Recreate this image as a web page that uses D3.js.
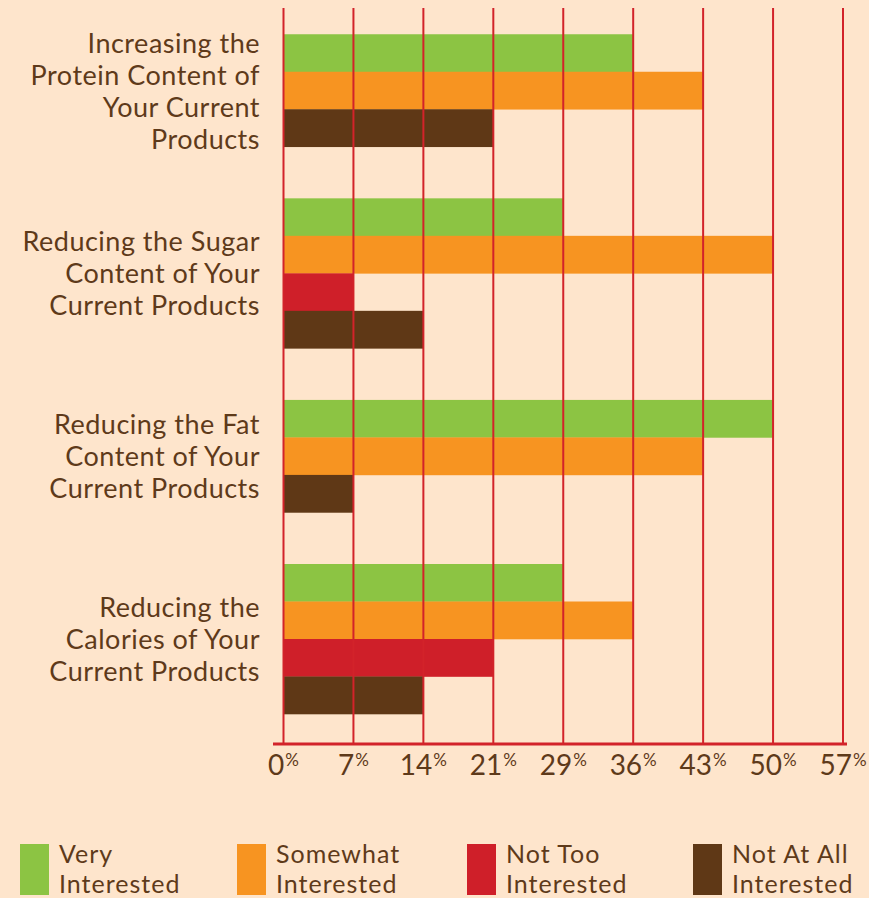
<!DOCTYPE html>
<html>
<head>
<meta charset="utf-8">
<script src="https://cdn.jsdelivr.net/npm/d3@7"></script>
<style>
  html, body { margin: 0; padding: 0; background: #fee5cc; }
  svg { display: block; font-family: Lato, "Open Sans", sans-serif; }
</style>
</head>
<body>
<div id="chart"></div>
<script>
var width = 869, height = 898;

// Data
var categories = [
  ["Increasing the", "Protein Content of", "Your Current", "Products"],
  ["Reducing the Sugar", "Content of Your", "Current Products"],
  ["Reducing the Fat", "Content of Your", "Current Products"],
  ["Reducing the", "Calories of Your", "Current Products"]
];
var seriesNames = ["Very Interested", "Somewhat Interested", "Not Too Interested", "Not At All Interested"];
var seriesColors = ["#8cc443", "#f79421", "#cf1f29", "#5f3816"];
var veryInterested = [35.7, 28.6, 50.0, 28.6];
var somewhatInterested = [42.9, 50.0, 42.9, 35.7];
var notTooInterested = [0, 7.1, 0, 21.4];
var notAtAllInterested = [21.4, 14.3, 7.1, 14.3];
var tickValues = [0, 50 / 7, 100 / 7, 150 / 7, 200 / 7, 250 / 7, 300 / 7, 350 / 7, 400 / 7];

var seriesValues = [veryInterested, somewhatInterested, notTooInterested, notAtAllInterested];

var svg = d3.select("#chart")
  .append("svg")
  .attr("width", width)
  .attr("height", height);

var textColor = "#5e3a1a";
var gridColor = "#d2232a";
var axisY = 744;
var barH = 37.5;

// X scale
var xScale = d3.scaleLinear()
  .domain([0, 400 / 7])
  .range([283.5, 843]);

// Category centres
var yScale = d3.scalePoint()
  .domain(d3.range(categories.length))
  .range([90.5, 639]);

// Bars: only series with a value are stacked, centred on the category
var barsG = svg.append("g").attr("class", "bars");

categories.forEach(function(cat, i) {
  var present = seriesValues
    .map(function(vals, s) { return { s: s, v: vals[i] }; })
    .filter(function(d) { return d.v > 0; });

  var inner = d3.scaleBand()
    .domain(present.map(function(d) { return d.s; }))
    .range([yScale(i) - present.length * barH / 2, yScale(i) + present.length * barH / 2]);

  barsG.selectAll(".bar-" + i)
    .data(present)
    .enter()
    .append("rect")
    .attr("class", "bar-" + i)
    .attr("x", xScale(0))
    .attr("y", function(d) { return inner(d.s); })
    .attr("width", function(d) { return xScale(d.v) - xScale(0); })
    .attr("height", inner.bandwidth() + 0.3)
    .attr("fill", function(d) { return seriesColors[d.s]; });

  // Category label
  var label = svg.append("text")
    .attr("text-anchor", "end")
    .attr("font-size", "27px")
    .attr("letter-spacing", "0.5px")
    .attr("fill", textColor);
  var firstY = yScale(i) - (cat.length - 1) * 32 / 2 + 10;
  label.selectAll("tspan")
    .data(cat)
    .enter()
    .append("tspan")
    .attr("x", 260)
    .attr("y", function(d, k) { return firstY + k * 32; })
    .text(function(d) { return d; });
});

// Vertical grid lines above the bars
svg.append("g")
  .attr("class", "grid")
  .selectAll("line")
  .data(tickValues)
  .enter()
  .append("line")
  .attr("x1", function(d) { return xScale(d); })
  .attr("x2", function(d) { return xScale(d); })
  .attr("y1", 8)
  .attr("y2", axisY)
  .attr("stroke", gridColor)
  .attr("stroke-width", 2);

// X axis line
svg.append("line")
  .attr("x1", 273)
  .attr("x2", 847)
  .attr("y1", axisY)
  .attr("y2", axisY)
  .attr("stroke", gridColor)
  .attr("stroke-width", 3);

// Tick labels with superscript percent
var tickLabels = svg.append("g")
  .attr("class", "x-labels")
  .selectAll("text")
  .data(tickValues)
  .enter()
  .append("text")
  .attr("x", function(d) { return xScale(d); })
  .attr("y", 775)
  .attr("text-anchor", "middle")
  .attr("fill", textColor);

tickLabels.append("tspan")
  .attr("font-size", "28px")
  .text(function(d) { return Math.round(d); });
tickLabels.append("tspan")
  .attr("font-size", "17px")
  .attr("dx", 1)
  .attr("dy", -9)
  .text("%");

// Legend
var legendX = [20, 237, 467, 693];
var legend = svg.append("g")
  .attr("class", "legend")
  .selectAll("g")
  .data(seriesNames)
  .enter()
  .append("g")
  .attr("transform", function(d, i) { return "translate(" + legendX[i] + ",844)"; });

legend.append("rect")
  .attr("width", 29)
  .attr("height", 51)
  .attr("fill", function(d, i) { return seriesColors[i]; });

legend.append("text")
  .attr("font-size", "25px")
  .attr("letter-spacing", "1px")
  .attr("fill", textColor)
  .selectAll("tspan")
  .data(function(d) {
    var parts = d.split(" ");
    return [parts.slice(0, -1).join(" "), parts[parts.length - 1]];
  })
  .enter()
  .append("tspan")
  .attr("x", 39)
  .attr("y", function(d, k) { return 19 + k * 30; })
  .text(function(d) { return d; });
</script>
</body>
</html>
